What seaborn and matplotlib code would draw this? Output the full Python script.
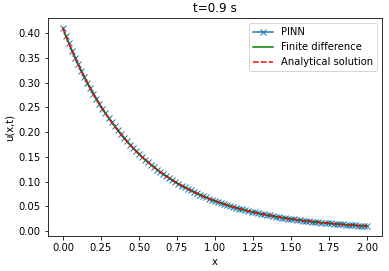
import numpy as np
import matplotlib
matplotlib.use("Agg")
import matplotlib.pyplot as plt
import seaborn as sns

# x grid (step 0.02) and u(x, t=0.9) values
x_vals = np.linspace(0.0, 2.0, 101)
u_pinn = [
    0.4098, 0.3941, 0.3790, 0.3645, 0.3505, 0.3371, 0.3242, 0.3118, 0.2999, 0.2885,
    0.2776, 0.2671, 0.2570, 0.2473, 0.2379, 0.2289, 0.2203, 0.2120, 0.2040, 0.1963,
    0.1889, 0.1818, 0.1750, 0.1685, 0.1622, 0.1561, 0.1503, 0.1447, 0.1393, 0.1341,
    0.1292, 0.1244, 0.1198, 0.1154, 0.1111, 0.1070, 0.1031, 0.0993, 0.0957, 0.0922,
    0.0888, 0.0856, 0.0825, 0.0795, 0.0766, 0.0737, 0.0710, 0.0684, 0.0659, 0.0635,
    0.0613, 0.0591, 0.0570, 0.0549, 0.0529, 0.0510, 0.0492, 0.0474, 0.0457, 0.0441,
    0.0425, 0.0410, 0.0395, 0.0381, 0.0367, 0.0355, 0.0342, 0.0330, 0.0318, 0.0307,
    0.0296, 0.0286, 0.0276, 0.0266, 0.0257, 0.0248, 0.0239, 0.0231, 0.0223, 0.0215,
    0.0208, 0.0201, 0.0194, 0.0187, 0.0181, 0.0174, 0.0168, 0.0162, 0.0157, 0.0151,
    0.0147, 0.0142, 0.0137, 0.0132, 0.0128, 0.0124, 0.0120, 0.0115, 0.0112, 0.0108,
    0.0104,
]
u_fd = list(u_pinn)
u_exact = list(u_pinn)

fig = plt.figure(figsize=(389 / 72, 271 / 72), dpi=72)
ax = fig.add_axes([0.1226, 0.1292, 0.8602, 0.8033])

sns.lineplot(x=x_vals, y=u_pinn, ax=ax, color="C0", marker="x",
             markeredgecolor="C0", markeredgewidth=1.0, markersize=6,
             label="PINN")
sns.lineplot(x=x_vals, y=u_fd, ax=ax, color="g", label="Finite difference")
sns.lineplot(x=x_vals, y=u_exact, ax=ax, color="r", linestyle="--",
             label="Analytical solution")

ax.set_title("t=0.9 s")
ax.set_xlabel("x")
ax.set_ylabel("u(x,t)")
ax.legend(loc="upper right")

fig.savefig("out.png", dpi=72)
